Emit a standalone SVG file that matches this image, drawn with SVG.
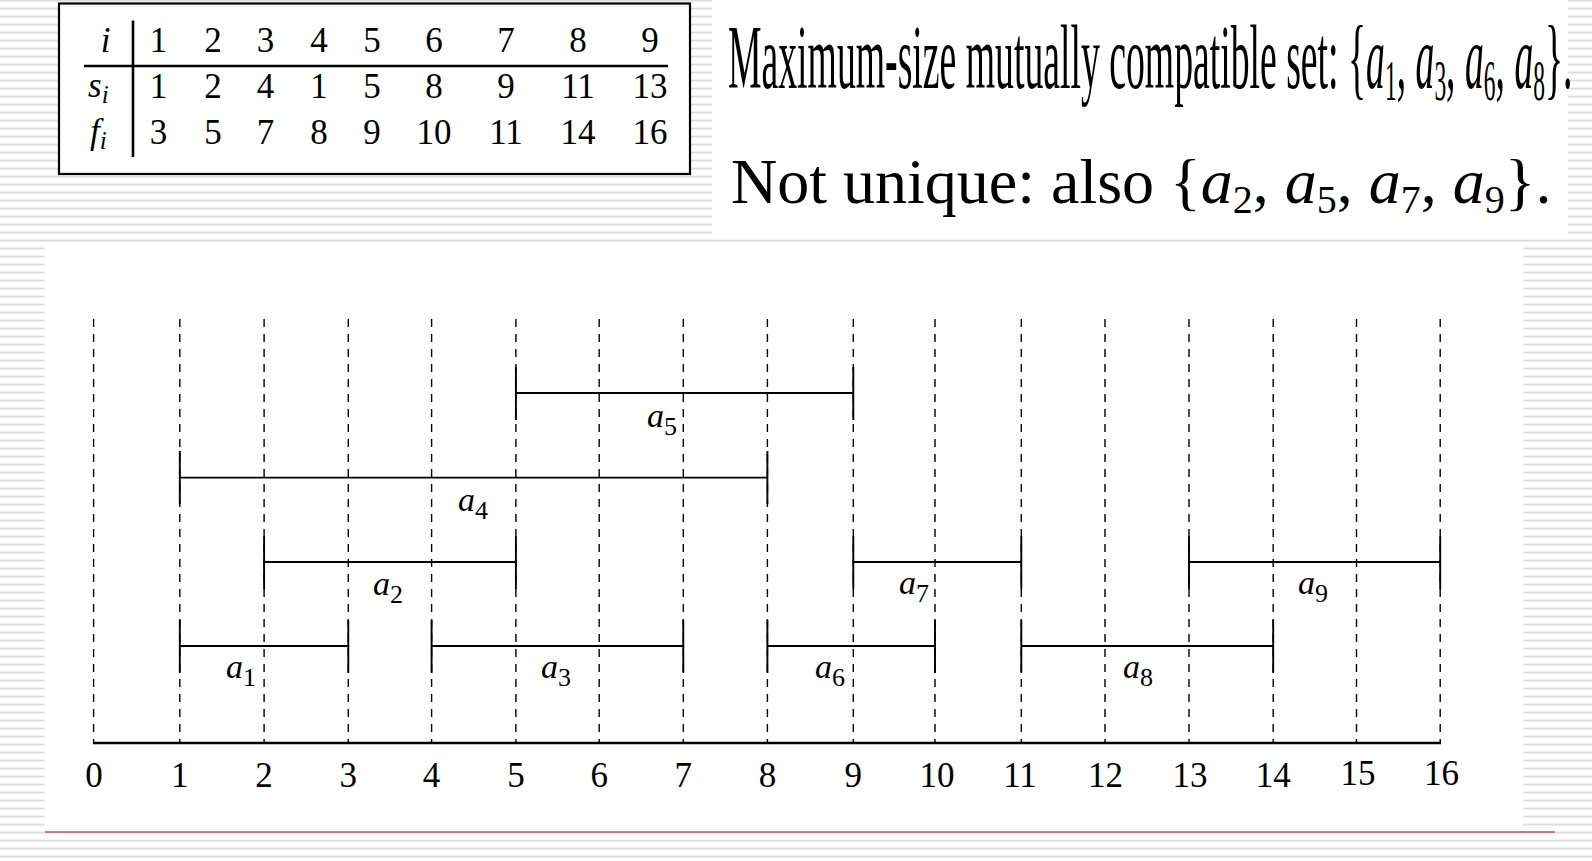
<svg xmlns="http://www.w3.org/2000/svg" width="1592" height="861" viewBox="0 0 1592 861">
<defs>
<pattern id="stripes" x="0" y="-0.3" width="16" height="8" patternUnits="userSpaceOnUse">
<rect x="0" y="0" width="16" height="8" fill="#ffffff"/>
<rect x="0" y="0" width="16" height="1.7" fill="#dadada"/>
</pattern>
<style>
.serif{font-family:"Liberation Serif","Times New Roman",serif;fill:#000}
.it{font-style:italic}
.tbl{font-size:35px;text-anchor:middle}
.ax{font-size:35px;text-anchor:middle}
.lab{font-size:34px;font-style:italic}
.lsub{font-size:26px;font-style:normal}
.grid{stroke:#000;stroke-width:1.4;stroke-dasharray:8 7;fill:none}
.bar{stroke:#000;stroke-width:1.8;fill:none}
.tick{stroke:#000;stroke-width:1.9;fill:none}
</style>
</defs>
<rect x="0" y="0" width="1592" height="861" fill="url(#stripes)"/>
<rect x="712" y="0" width="856" height="236" fill="#fff"/>
<rect x="45" y="243" width="1478" height="589" fill="#fff"/>
<line x1="45" y1="832" x2="1555" y2="832" stroke="#b9554f" stroke-width="1.3"/>

<g id="table">
<rect x="59" y="3.5" width="631" height="170.5" fill="#fff" stroke="#000" stroke-width="2.2"/>
<line x1="84" y1="66" x2="668" y2="66" stroke="#000" stroke-width="2.6"/>
<line x1="133" y1="20.5" x2="133" y2="157" stroke="#000" stroke-width="2.6"/>
<text class="serif it" x="105.5" y="52" font-size="35" text-anchor="middle">i</text>
<text class="serif it" x="88" y="97" font-size="35">s<tspan font-size="25" dy="6">i</tspan></text>
<text class="serif it" x="90" y="143" font-size="35">f<tspan font-size="25" dy="6">i</tspan></text>
<g class="serif tbl">
<text x="158.5" y="52">1</text><text x="213" y="52">2</text><text x="265.6" y="52">3</text><text x="319" y="52">4</text><text x="372" y="52">5</text><text x="434" y="52">6</text><text x="506" y="52">7</text><text x="578" y="52">8</text><text x="650" y="52">9</text>
<text x="158.5" y="98">1</text><text x="213" y="98">2</text><text x="265.6" y="98">4</text><text x="319" y="98">1</text><text x="372" y="98">5</text><text x="434" y="98">8</text><text x="506" y="98">9</text><text x="578" y="98">11</text><text x="650" y="98">13</text>
<text x="158.5" y="143.5">3</text><text x="213" y="143.5">5</text><text x="265.6" y="143.5">7</text><text x="319" y="143.5">8</text><text x="372" y="143.5">9</text><text x="434" y="143.5">10</text><text x="506" y="143.5">11</text><text x="578" y="143.5">14</text><text x="650" y="143.5">16</text>
</g>
</g>

<g id="caption1">
<text class="serif" transform="translate(728,88) scale(0.419,1)" font-size="90">Maximum-size mutually compatible set: {<tspan class="it">a</tspan><tspan font-size="56" dy="12">1</tspan><tspan dy="-12">, </tspan><tspan class="it">a</tspan><tspan font-size="56" dy="12">3</tspan><tspan dy="-12">, </tspan><tspan class="it">a</tspan><tspan font-size="56" dy="12">6</tspan><tspan dy="-12">, </tspan><tspan class="it">a</tspan><tspan font-size="56" dy="12">8</tspan><tspan dy="-12">}.</tspan></text>
</g>
<g id="caption2">
<text class="serif" x="731" y="203" font-size="64">Not unique: also {<tspan class="it">a</tspan><tspan font-size="40" dy="10">2</tspan><tspan dy="-10">, </tspan><tspan class="it">a</tspan><tspan font-size="40" dy="10">5</tspan><tspan dy="-10">, </tspan><tspan class="it">a</tspan><tspan font-size="40" dy="10">7</tspan><tspan dy="-10">, </tspan><tspan class="it">a</tspan><tspan font-size="40" dy="10">9</tspan><tspan dy="-10">}.</tspan></text>
</g>

<g id="grid">
<line class="grid" x1="93.6" y1="319" x2="93.6" y2="743"/>
<line class="grid" x1="179.8" y1="319" x2="179.8" y2="743"/>
<line class="grid" x1="264.1" y1="319" x2="264.1" y2="743"/>
<line class="grid" x1="348.3" y1="319" x2="348.3" y2="743"/>
<line class="grid" x1="431.6" y1="319" x2="431.6" y2="743"/>
<line class="grid" x1="515.9" y1="319" x2="515.9" y2="743"/>
<line class="grid" x1="599.2" y1="319" x2="599.2" y2="743"/>
<line class="grid" x1="683.3" y1="319" x2="683.3" y2="743"/>
<line class="grid" x1="767.4" y1="319" x2="767.4" y2="743"/>
<line class="grid" x1="853.3" y1="319" x2="853.3" y2="743"/>
<line class="grid" x1="935" y1="319" x2="935" y2="743"/>
<line class="grid" x1="1021.3" y1="319" x2="1021.3" y2="743"/>
<line class="grid" x1="1105" y1="319" x2="1105" y2="743"/>
<line class="grid" x1="1189" y1="319" x2="1189" y2="743"/>
<line class="grid" x1="1273.2" y1="319" x2="1273.2" y2="743"/>
<line class="grid" x1="1356.5" y1="319" x2="1356.5" y2="743"/>
<line class="grid" x1="1440.2" y1="319" x2="1440.2" y2="743"/>
</g>

<g id="axis">
<line x1="93" y1="743" x2="1441" y2="743" stroke="#000" stroke-width="2.4"/>
<g class="serif ax">
<text x="94" y="787">0</text><text x="179.8" y="787">1</text><text x="264.1" y="787">2</text><text x="348.3" y="787">3</text><text x="431.6" y="787">4</text><text x="515.9" y="787">5</text><text x="599.2" y="787">6</text><text x="683.3" y="787">7</text><text x="767.4" y="787">8</text><text x="853.3" y="787">9</text><text x="937" y="787">10</text><text x="1020" y="787">11</text><text x="1105.6" y="787">12</text><text x="1190" y="787">13</text><text x="1273.2" y="787">14</text><text x="1358" y="785">15</text><text x="1441.6" y="785">16</text>
</g>
</g>

<g id="connectors">
<g id="a1"><path class="bar" d="M179.8 646H348.3"/><path class="tick" d="M179.8 620V673M348.3 620V673"/></g>
<g id="a2"><path class="bar" d="M264.1 562H515.9"/><path class="tick" d="M264.1 536V589M515.9 536V589"/></g>
<g id="a3"><path class="bar" d="M431.6 646H683.3"/><path class="tick" d="M431.6 620V673M683.3 620V673"/></g>
<g id="a4"><path class="bar" d="M179.8 477.7H767.4"/><path class="tick" d="M179.8 451V504M767.4 451V504"/></g>
<g id="a5"><path class="bar" d="M515.9 393H853.3"/><path class="tick" d="M515.9 367V420M853.3 367V420"/></g>
<g id="a6"><path class="bar" d="M767.4 646H935"/><path class="tick" d="M767.4 620V673M935 620V673"/></g>
<g id="a7"><path class="bar" d="M853.3 562H1021.3"/><path class="tick" d="M853.3 536V589M1021.3 536V589"/></g>
<g id="a8"><path class="bar" d="M1021.3 646H1273.2"/><path class="tick" d="M1021.3 620V673M1273.2 620V673"/></g>
<g id="a9"><path class="bar" d="M1189 562H1440.2"/><path class="tick" d="M1189 536V589M1440.2 536V589"/></g>
</g>

<g id="labels" class="serif">
<text class="lab" x="226" y="678">a<tspan class="lsub" dy="8">1</tspan></text>
<text class="lab" x="373" y="595">a<tspan class="lsub" dy="8">2</tspan></text>
<text class="lab" x="541" y="678">a<tspan class="lsub" dy="8">3</tspan></text>
<text class="lab" x="458" y="511">a<tspan class="lsub" dy="8">4</tspan></text>
<text class="lab" x="647" y="427">a<tspan class="lsub" dy="8">5</tspan></text>
<text class="lab" x="815" y="678">a<tspan class="lsub" dy="8">6</tspan></text>
<text class="lab" x="899" y="594">a<tspan class="lsub" dy="8">7</tspan></text>
<text class="lab" x="1123" y="678">a<tspan class="lsub" dy="8">8</tspan></text>
<text class="lab" x="1298" y="594">a<tspan class="lsub" dy="8">9</tspan></text>
</g>
</svg>
